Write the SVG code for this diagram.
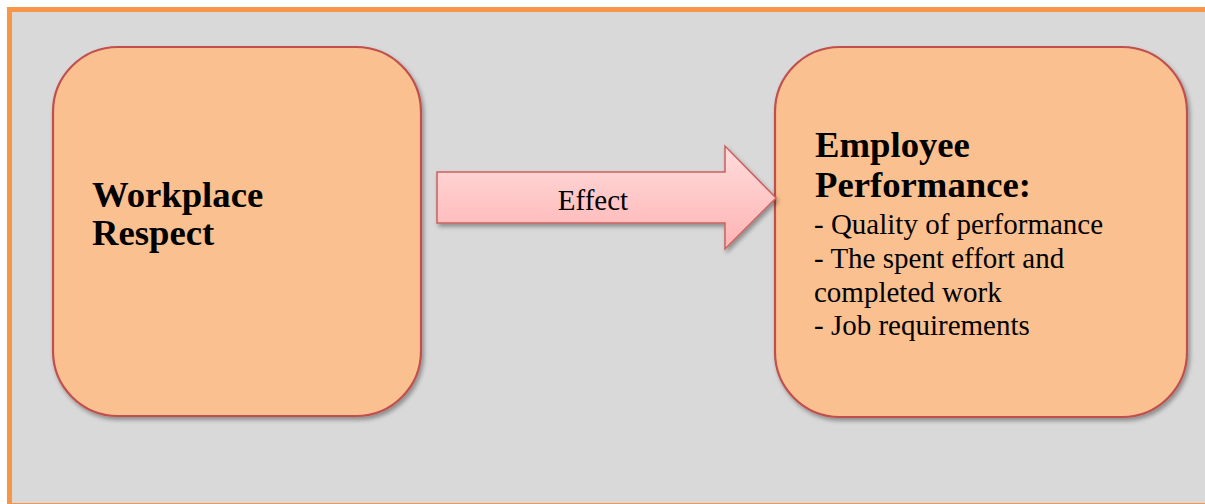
<svg xmlns="http://www.w3.org/2000/svg" width="1205" height="504" viewBox="0 0 1205 504">
  <style>
    .box { fill: #fac090; stroke: #c0504d; stroke-width: 2.2; filter: url(#shadow); }
    .title { font-family: "Liberation Serif", "Times New Roman", serif; font-weight: bold; font-size: 36.7px; fill: #000; }
    .body { font-family: "Liberation Serif", "Times New Roman", serif; font-size: 29px; fill: #000; }
    .label { font-family: "Liberation Serif", "Times New Roman", serif; font-size: 29px; fill: #000; }
  </style>
  <defs>
    <filter id="shadow" x="-10%" y="-10%" width="120%" height="120%">
      <feDropShadow dx="2" dy="3" stdDeviation="2" flood-color="#000" flood-opacity="0.35"/>
    </filter>
    <linearGradient id="arrowGrad" x1="0" y1="0" x2="0" y2="1">
      <stop offset="0" stop-color="#ffdcdc"/>
      <stop offset="1" stop-color="#ffb3b3"/>
    </linearGradient>
  </defs>
  <rect x="0" y="0" width="1205" height="504" fill="#ffffff"/>
  <g id="frame">
    <rect x="9.5" y="9.5" width="1205" height="496" fill="#d9d9d9" stroke="#f79646" stroke-width="5"/>
  </g>
  <g id="node-workplace-respect">
    <rect class="box" x="53" y="47" width="368" height="369" rx="65" ry="65"/>
    <text class="title" x="92" y="207">Workplace</text>
    <text class="title" x="92" y="245">Respect</text>
  </g>
  <g id="node-employee-performance">
    <rect class="box" x="775" y="47" width="412" height="370" rx="65" ry="65"/>
    <text class="title" x="815" y="157">Employee</text>
    <text class="title" x="815" y="197">Performance:</text>
    <text class="body" x="814" y="234">- Quality of performance</text>
    <text class="body" x="814" y="268">- The spent effort and</text>
    <text class="body" x="814" y="302">completed work</text>
    <text class="body" x="814" y="335">- Job requirements</text>
  </g>
  <g id="connectors">
    <polygon points="437,172 725,172 725,146 776,198 725,249 725,223 437,223" fill="url(#arrowGrad)" stroke="#c9625f" stroke-width="1.5" filter="url(#shadow)"/>
    <text class="label" x="593" y="210" text-anchor="middle">Effect</text>
  </g>
</svg>
